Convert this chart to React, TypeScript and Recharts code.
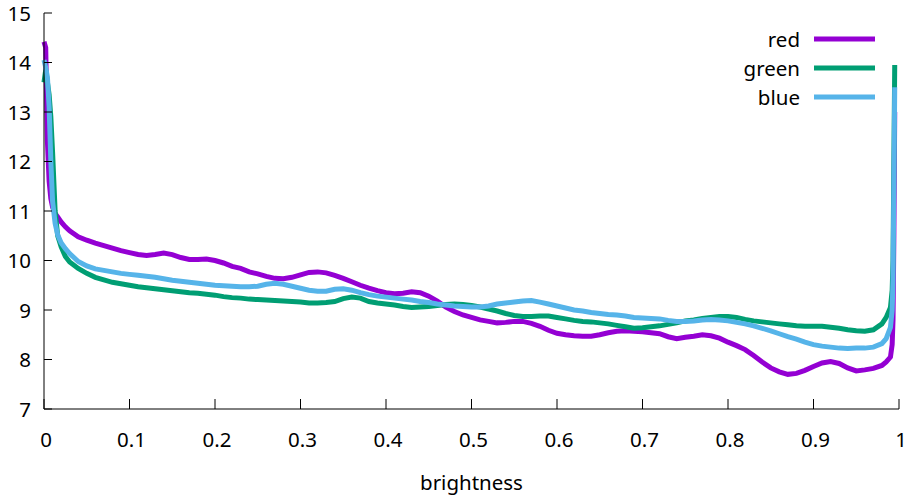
import React from 'react';
import { LineChart, Line, XAxis, YAxis, Legend } from 'recharts';

const brightness = [
  0, 0.002, 0.004, 0.006, 0.008, 0.01, 0.013, 0.016, 0.02, 0.025, 0.03,
  0.04, 0.05, 0.06, 0.07, 0.08, 0.09,
  0.1, 0.11, 0.12, 0.13, 0.14, 0.15, 0.16, 0.17, 0.18, 0.19,
  0.2, 0.21, 0.22, 0.23, 0.24, 0.25, 0.26, 0.27, 0.28, 0.29,
  0.3, 0.31, 0.32, 0.33, 0.34, 0.35, 0.36, 0.37, 0.38, 0.39,
  0.4, 0.41, 0.42, 0.43, 0.44, 0.45, 0.46, 0.47, 0.48, 0.49,
  0.5, 0.51, 0.52, 0.53, 0.54, 0.55, 0.56, 0.57, 0.58, 0.59,
  0.6, 0.61, 0.62, 0.63, 0.64, 0.65, 0.66, 0.67, 0.68, 0.69,
  0.7, 0.71, 0.72, 0.73, 0.74, 0.75, 0.76, 0.77, 0.78, 0.79,
  0.8, 0.81, 0.82, 0.83, 0.84, 0.85, 0.86, 0.87, 0.88, 0.89,
  0.9, 0.91, 0.92, 0.93, 0.94, 0.95, 0.96, 0.97, 0.98,
  0.985, 0.99, 0.992, 0.993, 0.994, 0.995,
];

const redValues = [
  14.42, 14.3, 12.4, 11.6, 11.25, 11.08, 10.95, 10.88, 10.78, 10.68, 10.6,
  10.48, 10.41, 10.35, 10.3, 10.25, 10.2,
  10.16, 10.12, 10.1, 10.12, 10.15, 10.12, 10.06, 10.02, 10.02, 10.03,
  10.0, 9.95, 9.88, 9.84, 9.77, 9.73, 9.68, 9.64, 9.63, 9.66,
  9.71, 9.76, 9.77, 9.75, 9.7, 9.64, 9.57, 9.5, 9.44, 9.39,
  9.35, 9.33, 9.34, 9.37, 9.35, 9.28, 9.18, 9.06, 8.97, 8.9,
  8.85, 8.8, 8.77, 8.74, 8.75, 8.77, 8.77, 8.73, 8.67, 8.59,
  8.53, 8.5, 8.48, 8.47, 8.47, 8.5, 8.54, 8.57, 8.58, 8.57,
  8.56, 8.54, 8.52, 8.46, 8.42, 8.45, 8.47, 8.5, 8.48, 8.43,
  8.35, 8.28, 8.2, 8.08, 7.95, 7.83, 7.75, 7.7, 7.72, 7.78,
  7.86, 7.93, 7.96, 7.92, 7.83, 7.77, 7.79, 7.82, 7.88,
  7.95, 8.05, 8.3, 8.8, 10.5, 13.0,
];

const greenValues = [
  13.6, 13.85, 13.6, 13.35, 12.9, 12.2, 11.0, 10.5, 10.28, 10.08, 9.97,
  9.84, 9.74, 9.66, 9.61, 9.56, 9.53,
  9.5, 9.47, 9.45, 9.43, 9.41, 9.39, 9.37, 9.35, 9.34, 9.32,
  9.3, 9.27, 9.25, 9.24, 9.22, 9.21, 9.2, 9.19, 9.18, 9.17,
  9.16, 9.14, 9.14, 9.15, 9.17, 9.23, 9.26, 9.24, 9.17, 9.14,
  9.12, 9.1, 9.07, 9.05, 9.06, 9.07, 9.09, 9.11, 9.12, 9.11,
  9.09, 9.06, 9.02, 8.98, 8.93, 8.89, 8.87, 8.87, 8.88, 8.88,
  8.85, 8.82, 8.79, 8.77, 8.76, 8.74, 8.72, 8.69, 8.66, 8.63,
  8.64, 8.66, 8.68, 8.71, 8.74, 8.78, 8.8, 8.83, 8.85, 8.87,
  8.87, 8.85, 8.81, 8.78, 8.76, 8.74, 8.72, 8.7, 8.68, 8.67,
  8.67, 8.67, 8.65, 8.63, 8.6, 8.58, 8.57, 8.6, 8.72,
  8.85, 9.05, 9.4, 10.0, 12.0, 13.95,
];

const blueValues = [
  14.05, 13.9, 13.7, 13.1, 12.0, 11.2, 10.75, 10.52, 10.36, 10.24, 10.14,
  9.98, 9.89, 9.83, 9.8, 9.77, 9.74,
  9.72, 9.7, 9.68, 9.66, 9.63, 9.6, 9.58, 9.56, 9.54, 9.52,
  9.5, 9.49, 9.48, 9.47, 9.47, 9.48, 9.52, 9.54, 9.52, 9.48,
  9.44, 9.4, 9.38, 9.38, 9.42, 9.43, 9.4, 9.35, 9.31, 9.28,
  9.26, 9.24, 9.22, 9.2, 9.17, 9.15, 9.12, 9.1, 9.08, 9.07,
  9.06, 9.06, 9.08, 9.12, 9.14, 9.16, 9.18, 9.19, 9.16, 9.12,
  9.08, 9.04, 9.0, 8.98, 8.95, 8.93, 8.91, 8.9, 8.88, 8.85,
  8.84, 8.83, 8.82, 8.79, 8.77, 8.77, 8.78, 8.8, 8.81, 8.8,
  8.78, 8.75, 8.72, 8.68, 8.63, 8.58, 8.52, 8.46, 8.41, 8.35,
  8.3, 8.27, 8.25, 8.23, 8.22, 8.23, 8.23, 8.25, 8.32,
  8.42, 8.65, 9.0, 9.6, 11.5, 13.5,
];

const seriesKeys = ['red', 'green', 'blue'];
const seriesNames = ['red', 'green', 'blue'];
const seriesColors = ['#9400d3', '#009e73', '#56b4e9'];

const xTicks = [0, 0.1, 0.2, 0.3, 0.4, 0.5, 0.6, 0.7, 0.8, 0.9, 1];
const xTickLabels = ['0', '0.1', '0.2', '0.3', '0.4', '0.5', '0.6', '0.7', '0.8', '0.9', '1'];
const yTicks = [7, 8, 9, 10, 11, 12, 13, 14, 15];
const yTickLabels = ['7', '8', '9', '10', '11', '12', '13', '14', '15'];
const xLabel = 'brightness';

const rows = brightness.map((b, i) => ({
  brightness: b,
  red: redValues[i],
  green: greenValues[i],
  blue: blueValues[i],
}));

const FONT = '"Noto Sans", sans-serif';
const FS = 20.5;

const BottomTick = (p: any) => {
  const { x, y, payload } = p;
  const i = xTicks.indexOf(payload.value);
  return (
    <g>
      <line x1={x} x2={x} y1={y} y2={y - 10} stroke="#000" strokeWidth={1} />
      <text x={x + 2} y={y + 38} textAnchor="middle" fontSize={FS} fontFamily={FONT} fill="#000">
        {xTickLabels[i]}
      </text>
    </g>
  );
};

const TopTick = (p: any) => {
  const { x, y } = p;
  return <line x1={x} x2={x} y1={y} y2={y + 10} stroke="#000" strokeWidth={1} />;
};

const LeftTick = (p: any) => {
  const { x, y, payload } = p;
  const i = yTicks.indexOf(payload.value);
  return (
    <g>
      <line x1={x} x2={x + 8} y1={y} y2={y} stroke="#000" strokeWidth={1} />
      <text x={x - 13} y={y + 7.5} textAnchor="end" fontSize={FS} fontFamily={FONT} fill="#000">
        {yTickLabels[i]}
      </text>
    </g>
  );
};

const RightTick = (p: any) => {
  const { x, y } = p;
  return <line x1={x} x2={x - 8} y1={y} y2={y} stroke="#000" strokeWidth={1} />;
};

const XLabel = (props: any) => {
  const vb = props.viewBox || {};
  return (
    <text x={vb.x + vb.width / 2} y={vb.y + 81} textAnchor="middle" fontSize={FS} fontFamily={FONT} fill="#000">
      {xLabel}
    </text>
  );
};

const LegendBox = () => (
  <svg width={907} height={120} style={{ display: 'block' }}>
    {seriesNames.map((n, i) => (
      <g key={n}>
        <text x={800} y={39 + 29 * i + 7.5} textAnchor="end" fontSize={FS} fontFamily={FONT} fill="#000">
          {n}
        </text>
        <line x1={814} x2={875} y1={39 + 29 * i} y2={39 + 29 * i} stroke={seriesColors[i]} strokeWidth={5} />
      </g>
    ))}
  </svg>
);

export default function App() {
  return (
    <div style={{ position: 'absolute', left: 0, top: 0, width: 907, height: 495, background: '#fff' }}>
      <LineChart width={907} height={495} data={rows} margin={{ top: 13, right: 8, bottom: 0, left: 0 }}>
        <XAxis
          xAxisId="b"
          dataKey="brightness"
          type="number"
          domain={[0, 1]}
          ticks={xTicks}
          interval={0}
          height={86}
          tickSize={0}
          tickMargin={0}
          tickLine={false}
          axisLine={{ stroke: '#000', strokeWidth: 1 }}
          tick={BottomTick}
          label={{ value: xLabel, content: XLabel }}
        />
        <XAxis
          xAxisId="t"
          orientation="top"
          dataKey="brightness"
          type="number"
          domain={[0, 1]}
          ticks={xTicks}
          interval={0}
          height={0}
          tickSize={0}
          tickMargin={0}
          tickLine={false}
          axisLine={{ stroke: '#000', strokeWidth: 1 }}
          tick={TopTick}
        />
        <YAxis
          yAxisId="l"
          type="number"
          domain={[7, 15]}
          ticks={yTicks}
          interval={0}
          width={44}
          tickSize={0}
          tickMargin={0}
          tickLine={false}
          axisLine={{ stroke: '#000', strokeWidth: 1 }}
          tick={LeftTick}
        />
        <YAxis
          yAxisId="r"
          orientation="right"
          type="number"
          domain={[7, 15]}
          ticks={yTicks}
          interval={0}
          width={0}
          tickSize={0}
          tickMargin={0}
          tickLine={false}
          axisLine={{ stroke: '#000', strokeWidth: 1 }}
          tick={RightTick}
        />
        <Legend
          layout="vertical"
          align="center"
          verticalAlign="middle"
          content={LegendBox}
          wrapperStyle={{ position: 'absolute', left: 0, top: 0, width: 907, height: 120, pointerEvents: 'none' }}
        />
        {seriesKeys.map((k, i) => (
          <Line
            key={k}
            xAxisId="b"
            yAxisId="l"
            type="linear"
            dataKey={k}
            name={seriesNames[i]}
            stroke={seriesColors[i]}
            strokeWidth={5}
            dot={false}
            activeDot={false}
            isAnimationActive={false}
          />
        ))}
      </LineChart>
    </div>
  );
}
